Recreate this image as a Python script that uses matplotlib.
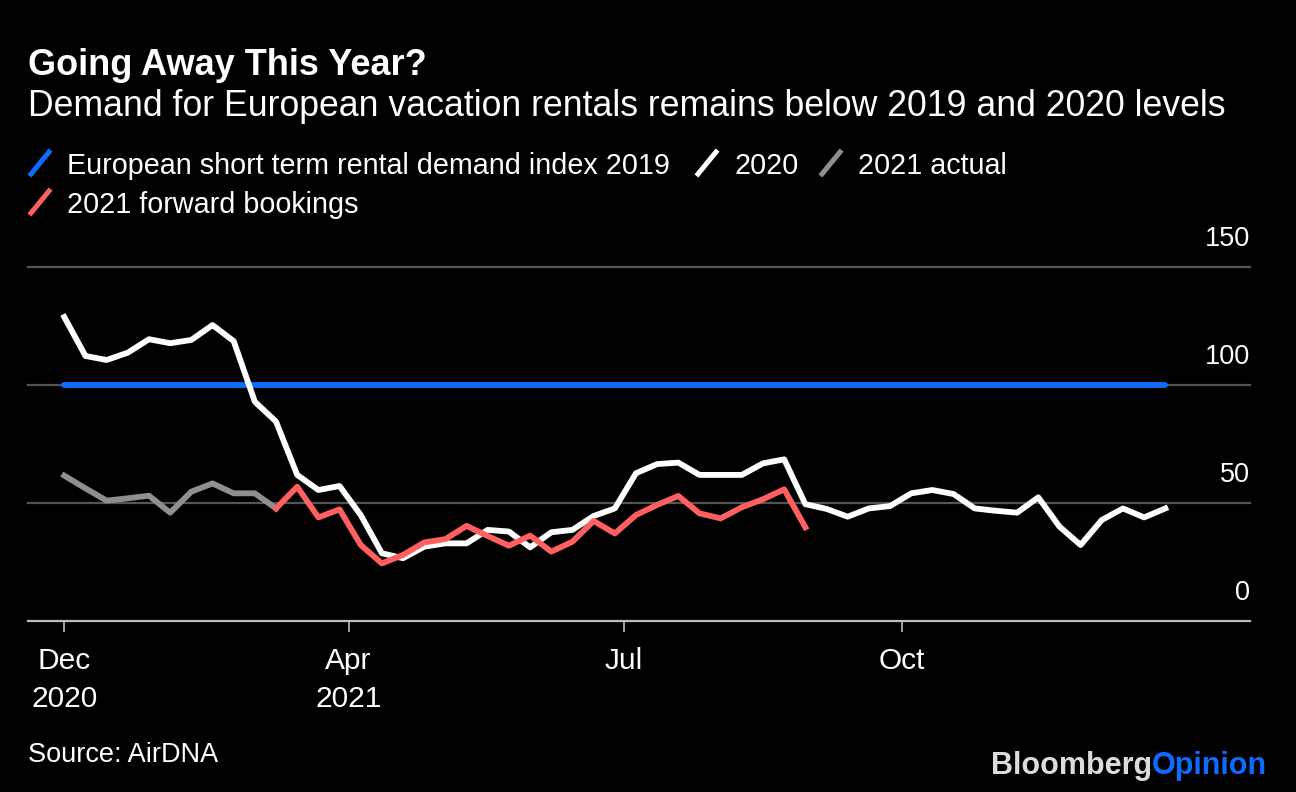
import pandas as pd
import matplotlib
matplotlib.use('Agg')
import matplotlib.pyplot as plt
import matplotlib.transforms as mtransforms
from matplotlib.lines import Line2D

# ---------------------------------------------------------------- datos
fechas = pd.date_range('2020-12-28', periods=53, freq='7D')

indice_2019 = [100] * 53

demanda_2020 = [128.8, 112.3, 110.6, 113.7, 119.4, 117.7, 119.1, 125.4, 118.6, 92.9,
                84.5, 61.9, 55.5, 57.2, 44.9, 28.7, 26.6, 31.5, 32.9, 32.9,
                38.6, 37.9, 31.2, 37.6, 38.6, 44.5, 47.7, 62.6, 66.5, 67.1,
                61.9, 61.9, 61.9, 66.8, 68.5, 49.5, 47.5, 44.2, 47.7, 48.7,
                54.1, 55.5, 53.8, 47.7, 46.7, 45.9, 52.4, 40.0, 32.2, 42.8,
                47.7, 43.9, 47.7]

real_2021 = [61.6, 56.2, 51.0, 52.0, 53.1, 45.9, 54.8, 58.3, 54.1, 54.1, 47.7]

reservas_2021 = [47.7, 56.9, 43.9, 47.3, 32.2, 24.4, 28.0, 33.3, 34.7, 40.3,
                 36.0, 31.9, 36.2, 29.4, 33.6, 42.4, 37.1, 44.9, 49.2, 53.0,
                 45.6, 43.5, 48.2, 51.6, 55.8, 39.7]

ticks_x = pd.to_datetime(['2020-12-28', '2021-04-01', '2021-07-01', '2021-10-01'])
etiquetas_x = ['Dec\n2020', 'Apr\n2021', 'Jul', 'Oct']
ticks_y = [0, 50, 100, 150]

# ---------------------------------------------------------------- estilo
AZUL = '#0b6cff'
ROJO = '#ff5f5f'
GRIS = '#8f8f8f'
GROSOR = 4.2
plt.rcParams['font.family'] = ['Liberation Sans', 'DejaVu Sans']

W, H = 1296, 792
fig = plt.figure(figsize=(W / 100, H / 100), dpi=100, facecolor='black')
ax = fig.add_axes([28 / W, 1 - 621 / H, (1250 - 28) / W, (621 - 267) / H])
ax.set_facecolor('black')

# líneas de cuadrícula
for v in ticks_y[1:]:
    ax.axhline(v, color='#555555', lw=1.6, zorder=1, clip_on=False)

ax.plot(fechas, indice_2019, color=AZUL, lw=GROSOR, solid_capstyle='round', zorder=3)
ax.plot(fechas[:len(real_2021)], real_2021, color=GRIS, lw=GROSOR, zorder=4)
ax.plot(fechas, demanda_2020, color='white', lw=GROSOR, zorder=5)
ax.plot(fechas[10:10 + len(reservas_2021)], reservas_2021, color=ROJO, lw=GROSOR, zorder=6)

ax.set_xlim(pd.Timestamp('2020-12-16'), pd.Timestamp('2022-01-24'))
ax.set_ylim(0, 150)

for lado in ['top', 'right', 'left']:
    ax.spines[lado].set_visible(False)
ax.spines['bottom'].set_color('#bdbdbd')
ax.spines['bottom'].set_linewidth(1.6)

ax.set_yticks([])
ax.set_xticks(ticks_x)
ax.set_xticklabels(etiquetas_x, fontsize=21.5, color='white', linespacing=1.45)
ax.tick_params(axis='x', length=8, width=1.2, color='#bdbdbd', pad=11)

# etiquetas del eje y encima de la cuadrícula
trans = mtransforms.offset_copy(ax.get_yaxis_transform(), fig=fig, y=27.5, units='dots')
for v in ticks_y:
    ax.text(1.0, v, str(v), transform=trans, ha='right', va='center',
            fontsize=19.5, color='white')

# ---------------------------------------------------------------- textos
def px(x, y):
    return x / W, 1 - y / H

fig.text(*px(28, 75), 'Going Away This Year?', fontsize=26, fontweight='bold',
         color='white', va='baseline')
fig.text(*px(28, 116), 'Demand for European vacation rentals remains below 2019 and 2020 levels',
         fontsize=25.7, color='white', va='baseline')

leyenda = [
    (31, 163, AZUL, 'European short term rental demand index 2019'),
    (698, 163, 'white', '2020'),
    (822, 163, GRIS, '2021 actual'),
    (31, 202, ROJO, '2021 forward bookings'),
]
for x0, yc, color, texto in leyenda:
    x_a, y_a = px(x0, yc + 11)
    x_b, y_b = px(x0 + 18, yc - 11)
    fig.add_artist(Line2D([x_a, x_b], [y_a, y_b], transform=fig.transFigure,
                          color=color, lw=3.6))
    fig.text(*px(x0 + 36, yc + 10.5), texto, fontsize=20.7, color='white', va='baseline')

fig.text(*px(28, 762), 'Source: AirDNA', fontsize=19.5, color='white', va='baseline')
fig.text(*px(1152, 774), 'Bloomberg', fontsize=22, fontweight='bold',
         color='#dcdcdc', ha='right', va='baseline')
fig.text(*px(1152, 774), 'Opinion', fontsize=22, fontweight='bold',
         color=AZUL, ha='left', va='baseline')

fig.savefig('out.png', dpi=100, facecolor='black')
